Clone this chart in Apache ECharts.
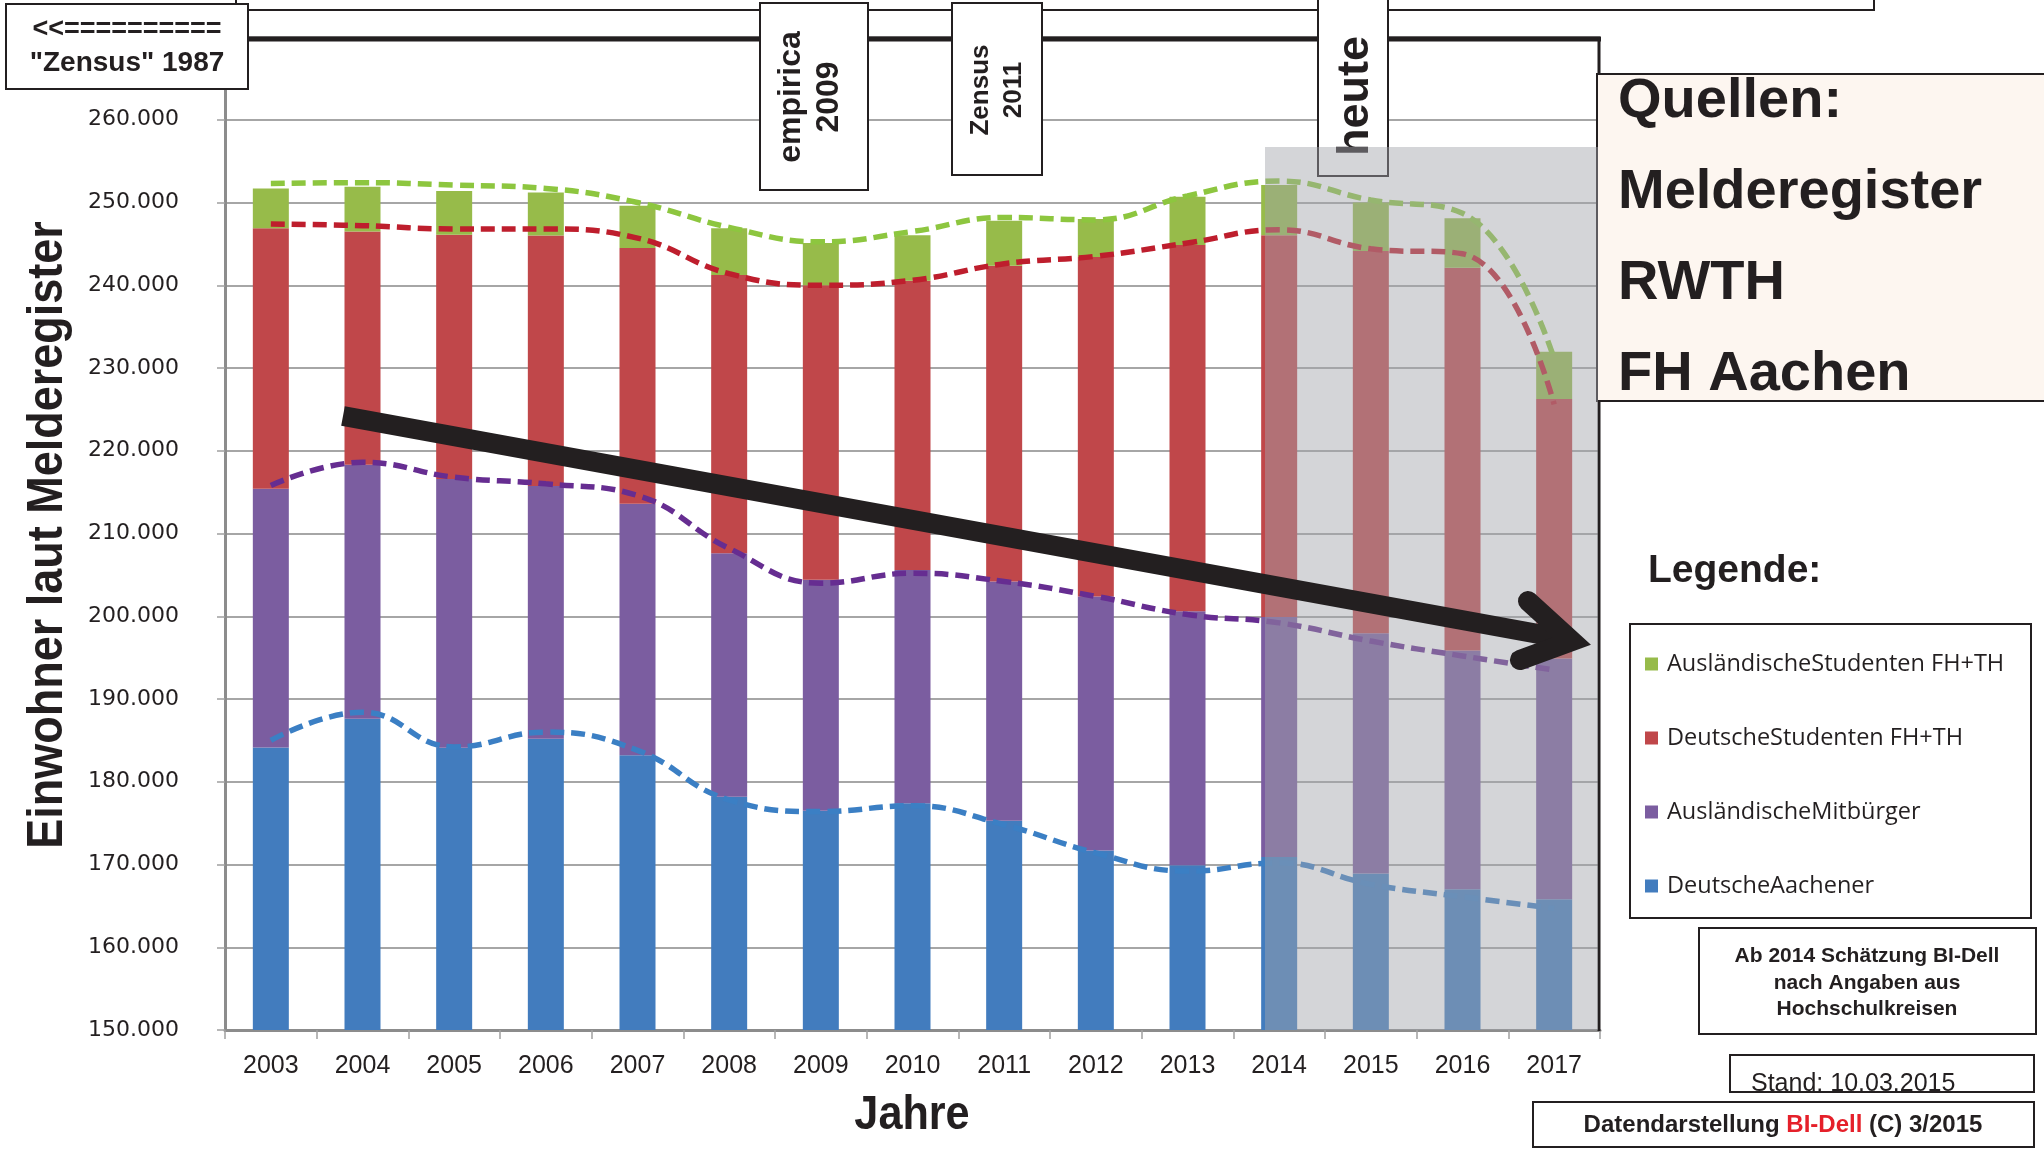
<!DOCTYPE html>
<html>
<head>
<meta charset="utf-8">
<script src="https://cdn.jsdelivr.net/npm/echarts@6/dist/echarts.min.js"></script>
<style>
  html, body { margin: 0; padding: 0; background: #fff; }
  #chart { width: 2044px; height: 1158px; }
</style>
</head>
<body>
<div id="chart"></div>
<script>
// Jahre
const years = ['2003', '2004', '2005', '2006', '2007', '2008', '2009', '2010',
               '2011', '2012', '2013', '2014', '2015', '2016', '2017'];

// gestapelte Anteile (Einwohner)
const deutscheAachener = [184150, 187600, 184100, 185200, 183200, 178200, 176500, 177400,
                          175300, 171700, 169900, 170900, 168900, 167000, 165800];
const auslMitbuerger = [31250, 30700, 32500, 30550, 30400, 29400, 27900, 28200,
                        28900, 30700, 30700, 29000, 29050, 28850, 29100];
const deutscheStudenten = [31500, 28200, 29500, 30250, 30900, 33650, 35600, 34950,
                           38150, 41000, 44250, 46150, 46200, 46250, 31350];
const auslStudenten = [4800, 5400, 5300, 5200, 5100, 5650, 5100, 5500,
                       5450, 4600, 5850, 6050, 5850, 6000, 5700];

// gestrichelte Verlaufslinien (Summenwerte)
const trendGruen = [252300, 252400, 252100, 251700, 250000, 247000, 245250, 246500,
                    248200, 247900, 250800, 252600, 250300, 248700, 231100];
const trendRot = [247400, 247200, 246800, 246800, 245700, 241400, 240000, 240600,
                  242600, 243500, 245100, 246700, 244400, 243800, 225600];
const trendLila = [215800, 218600, 216800, 216000, 214600, 208200, 204000, 205200,
                   204200, 202400, 200200, 199200, 197000, 195200, 193500];
const trendBlau = [185000, 188400, 184200, 186000, 183800, 177800, 176400, 177100,
                   174800, 171400, 169200, 170200, 167600, 166100, 164700];

// y-Achse
const yMin = 150000, yMax = 270000, yStep = 10000;

const ink = '#231f20';

function box(x, y, w, h, fill, z) {
  return { type: 'rect', z: z || 40, shape: { x: x, y: y, width: w, height: h },
           style: { fill: fill || '#fff', stroke: ink, lineWidth: 2 } };
}
function txt(x, y, text, font, opts) {
  return Object.assign({ type: 'text', z: 45, x: x, y: y,
    style: Object.assign({ text: text, font: font, fill: ink, align: 'center', verticalAlign: 'middle' },
                         (opts && opts.style) || {}) }, (opts && opts.el) || {});
}

const chart = echarts.init(document.getElementById('chart'));

const dashed = (name, data, color) => ({
  name: name, type: 'line', data: data, smooth: 0.45, symbol: 'none', z: 3,
  lineStyle: { color: color, width: 5.5, type: [14, 7] }
});

const option = {
  animation: false,
  backgroundColor: '#fff',
  grid: { left: 225, right: 444, top: 37, bottom: 128 },
  legend: {
    orient: 'vertical', left: 1645, top: 652, padding: 0, itemGap: 50, z: 60,
    itemWidth: 13, itemHeight: 13, icon: 'rect',
    data: ['AusländischeStudenten FH+TH', 'DeutscheStudenten FH+TH', 'AusländischeMitbürger', 'DeutscheAachener'],
    textStyle: { fontFamily: 'Open Sans', fontSize: 23.5, lineHeight: 23, color: ink, padding: [0, 0, 0, 4] }
  },
  xAxis: {
    type: 'category', data: years,
    axisLine: { lineStyle: { color: '#8c8c8c', width: 3 } },
    axisTick: { show: true, length: 9, lineStyle: { color: '#a0a0a0', width: 1.5 } },
    axisLabel: { fontFamily: 'Liberation Sans', fontSize: 25, color: ink, margin: 24 },
    splitLine: { show: false }
  },
  yAxis: {
    type: 'value', min: yMin, max: yMax, interval: yStep,
    axisLine: { show: true, lineStyle: { color: '#8c8c8c', width: 3 } },
    axisTick: { show: true, length: 8, lineStyle: { color: '#a0a0a0', width: 1.5 } },
    axisLabel: { fontFamily: 'DejaVu Sans', fontSize: 22, color: ink, margin: 46,
                 formatter: v => (v / 1000) + '.000' },
    splitLine: { lineStyle: { color: '#a6a6a6', width: 2 } }
  },
  series: [
    { name: 'DeutscheAachener', type: 'bar', stack: 'a', barWidth: 36, data: deutscheAachener,
      itemStyle: { color: '#427cbe' } },
    { name: 'AusländischeMitbürger', type: 'bar', stack: 'a', barWidth: 36, data: auslMitbuerger,
      itemStyle: { color: '#7b5da0' } },
    { name: 'DeutscheStudenten FH+TH', type: 'bar', stack: 'a', barWidth: 36, data: deutscheStudenten,
      itemStyle: { color: '#c0474a' } },
    { name: 'AusländischeStudenten FH+TH', type: 'bar', stack: 'a', barWidth: 36, data: auslStudenten,
      itemStyle: { color: '#97bb4a' } },
    dashed('Trend Studenten', trendGruen, '#8dc63f'),
    dashed('Trend Deutsche Studenten', trendRot, '#be1e2d'),
    dashed('Trend Mitbürger', trendLila, '#662d91'),
    dashed('Trend Aachener', trendBlau, '#3b7fc4')
  ],
  graphic: [
    // obere Rahmenlinien
    box(236, -10, 1638, 20, '#fff', 30),
    { type: 'line', z: 35, shape: { x1: 240, y1: 39, x2: 1601, y2: 39 }, style: { stroke: ink, lineWidth: 5 } },
    { type: 'line', z: 35, shape: { x1: 1599, y1: 37, x2: 1599, y2: 1031 }, style: { stroke: ink, lineWidth: 3 } },

    // Zensus 1987
    box(6, 4, 242, 85),
    txt(127, 30, '<<==========', 'bold 27px "Liberation Sans"'),
    txt(127, 63, '"Zensus" 1987', 'bold 28px "Liberation Sans"'),

    // empirica 2009
    box(760, 3, 108, 187),
    txt(810, 97, 'empirica\n2009', 'bold 32px "Liberation Sans"',
        { el: { rotation: Math.PI / 2 }, style: { lineHeight: 38 } }),

    // Zensus 2011
    box(952, 3, 90, 172),
    txt(997, 90, 'Zensus\n2011', 'bold 26px "Liberation Sans"',
        { el: { rotation: Math.PI / 2 }, style: { lineHeight: 33 } }),

    // heute
    box(1318, -6, 70, 182),
    txt(1356, 96, 'heute', 'bold 45px "Liberation Sans"', { el: { rotation: Math.PI / 2 } }),

    // Schätzungsbereich ab 2014
    { type: 'rect', z: 70, shape: { x: 1265, y: 147, width: 333, height: 883 },
      style: { fill: 'rgba(162,164,170,0.46)' } },

    // Pfeil
    { type: 'polyline', z: 80, shape: { points: [[343, 416], [1566, 639]] },
      style: { stroke: ink, lineWidth: 20, lineCap: 'butt', fill: null } },
    { type: 'polyline', z: 80, shape: { points: [[1528, 601], [1572, 641], [1520, 660]] },
      style: { stroke: ink, lineWidth: 20, lineCap: 'round', lineJoin: 'miter', fill: null } },

    // Quellen
    box(1597, 74, 460, 327, '#fdf6f0'),
    txt(1618, 102, 'Quellen:', 'bold 56px "Liberation Sans"', { style: { align: 'left' } }),
    txt(1618, 193, 'Melderegister', 'bold 56px "Liberation Sans"', { style: { align: 'left' } }),
    txt(1618, 284, 'RWTH', 'bold 56px "Liberation Sans"', { style: { align: 'left' } }),
    txt(1618, 375, 'FH Aachen', 'bold 56px "Liberation Sans"', { style: { align: 'left' } }),

    // Legende
    txt(1648, 571, 'Legende:', 'bold 39px "Liberation Sans"', { style: { align: 'left' } }),
    box(1630, 624, 401, 294, '#fff', 1),

    // Hinweise
    box(1699, 928, 337, 106),
    txt(1867, 956, 'Ab 2014 Schätzung BI-Dell', 'bold 21px "Liberation Sans"'),
    txt(1867, 983, 'nach Angaben aus', 'bold 21px "Liberation Sans"'),
    txt(1867, 1009, 'Hochschulkreisen', 'bold 21px "Liberation Sans"'),

    box(1730, 1055, 304, 37),
    txt(1751, 1097, 'Stand: 10.03.2015', '25px "Liberation Sans"',
        { style: { align: 'left', verticalAlign: 'bottom' } }),

    box(1533, 1102, 501, 45),
    { type: 'text', z: 45, x: 1783, y: 1125,
      style: { text: '{a|Datendarstellung }{b|BI-Dell}{a| (C) 3/2015}', align: 'center', verticalAlign: 'middle',
               rich: { a: { font: 'bold 24px "Liberation Sans"', fill: ink },
                       b: { font: 'bold 24px "Liberation Sans"', fill: '#e5202a' } } } },

    // Achsentitel
    txt(48, 535, 'Einwohner laut Melderegister', 'bold 50px "Liberation Sans"',
        { el: { rotation: Math.PI / 2, scaleX: 0.9 } }),
    txt(912, 1116, 'Jahre', 'bold 48px "Liberation Sans"', { el: { scaleX: 0.9 } })
  ]
};

chart.setOption(option);
</script>
</body>
</html>
